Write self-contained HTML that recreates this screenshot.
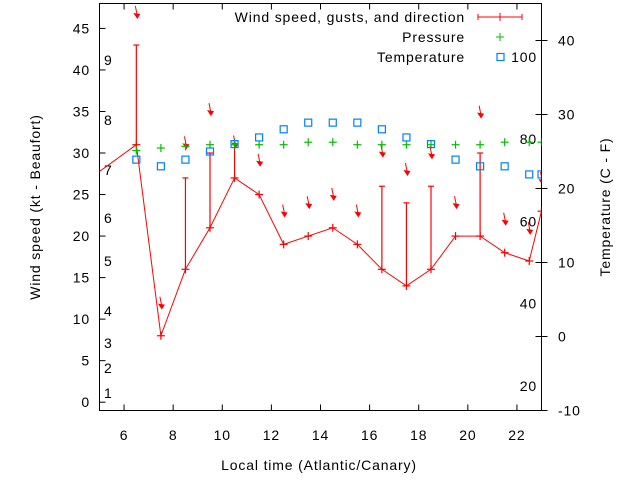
<!DOCTYPE html>
<html><head><meta charset="utf-8"><style>
body{margin:0;background:#fff;}
svg{display:block;font-family:"Liberation Sans",sans-serif;}
svg text{letter-spacing:0.85px;}
</style></head><body>
<svg id="chart" width="640" height="480" viewBox="0 0 640 480" xmlns="http://www.w3.org/2000/svg"></svg>
<script>
const hours=[6.5,7.5,8.5,9.5,10.5,11.5,12.5,13.5,14.5,15.5,16.5,17.5,18.5,19.5,20.5,21.5,22.5,23];
const windKt=[31,8,16,21,27,25,19,20,21,19,16,14,16,20,20,18,17,23];
const gustKt=[43,null,27,30,31.5,null,null,null,null,null,26,24,26,null,30,null,null,null];
const arrowKt=[46.5,11.5,30.8,34.8,30.9,28.7,22.6,23.6,24.6,22.6,29.8,27.6,29.6,23.6,34.5,21.6,20.5,26.5];
const pressure=[30.3,30.6,30.8,31,31,31,31,31.3,31.3,31,31,31,31,31,31,31.3,31.3,31.3];
const tempC=[23.9,23,23.9,25,26,26.9,28,28.9,28.9,28.9,28,26.9,26,23.9,23,23,21.9,21.9];
const xTicks=[6,8,10,12,14,16,18,20,22];
const yTicks=[0,5,10,15,20,25,30,35,40,45];
const y2Ticks=[-10,0,10,20,30,40];
const beaufort=[[1,393],[2,368],[3,343],[4,311],[5,261],[6,218],[7,170],[8,120],[9,60]];
const fahr=[20,40,60,80,100];

const L=99.5,R=541.5,T=3.5,B=410.5;
const X=h=>L+(h-5)*(R-L)/18;
const Y=v=>B-(v+1)*(B-T)/49;
const Y2=c=>B-(c+10)*(B-T)/55;
const svg=document.getElementById('chart');
const NS='http://www.w3.org/2000/svg';
function mk(tag,attrs,parent){const e=document.createElementNS(NS,tag);for(const k in attrs)e.setAttribute(k,attrs[k]);(parent||svg).appendChild(e);return e;}
function txt(s,x,y,anchor,parent){const t=mk('text',{x:x,y:y,'font-size':14,'text-anchor':anchor||'middle',fill:'#000'},parent);t.textContent=s;return t;}

const frame=mk('rect',{x:L,y:T,width:R-L,height:B-T,fill:'none',stroke:'#000','stroke-width':1});



const gx=mk('g',{});


xTicks.forEach(h=>{
  mk('line',{x1:X(h),x2:X(h),y1:B,y2:B-6,stroke:'#000'},gx);
  mk('line',{x1:X(h),x2:X(h),y1:T,y2:T+6,stroke:'#000'},gx);
  const t=txt(String(h),X(h),440,'middle',gx);
  
  
});
const gy=mk('g',{});


yTicks.forEach(v=>{
  mk('line',{x1:L,x2:L+6,y1:Y(v),y2:Y(v),stroke:'#000'},gy);
  const t=txt(String(v),90,Y(v)+5,'end',gy);
  
  
});
const gy2=mk('g',{});


y2Ticks.forEach(c=>{
  mk('line',{x1:R-6,x2:R+6,y1:Y2(c),y2:Y2(c),stroke:'#000'},gy2);
  const t=txt(String(c),558,Y2(c)+5,'start',gy2);
  
  
});
beaufort.forEach(b=>{
  const t=txt(String(b[0]),104,b[1]+5,'start');
  
  
});
fahr.forEach(f=>{
  const t=txt(String(f),537,Y2((f-32)*5/9)+5,'end');
  
  
});

const defs=mk('defs',{});
const cp=mk('clipPath',{id:'clip'},defs);
mk('rect',{x:L,y:T,width:R-L,height:B-T},cp);
const plot=mk('g',{'clip-path':'url(#clip)'});

let pts=[[4.5,26.7]].concat(hours.map((h,i)=>[h,windKt[i]]));
const wl=mk('polyline',{points:pts.map(p=>X(p[0])+','+Y(p[1])).join(' '),fill:'none',stroke:'#f00','stroke-width':1},plot);


hours.forEach((h,i)=>{
  const g=mk('g',{stroke:'#f00','stroke-width':1.2},plot);
  
  
  const x=X(h),y=Y(windKt[i]);
  mk('line',{x1:x-4,x2:x+4,y1:y,y2:y},g);mk('line',{x1:x,x2:x,y1:y-4,y2:y+4},g);
  if(gustKt[i]!==null){
    const gy_=Y(gustKt[i]);
    mk('line',{x1:x,x2:x,y1:y,y2:gy_},g);
    mk('line',{x1:x-3,x2:x+3,y1:gy_,y2:gy_},g);
  }
  const ay=Y(arrowKt[i]);
  const a=mk('g',{},plot);
  
  
  mk('line',{x1:x-1,y1:ay-10,x2:x+1,y2:ay,stroke:'#f00','stroke-width':1},a);
  mk('polygon',{points:(x-3)+','+(ay-3)+' '+(x+4)+','+(ay-2)+' '+(x+1)+','+(ay+3),fill:'#f00'},a);
});
hours.forEach((h,i)=>{
  const x=X(h),y=Y(pressure[i]);
  const g=mk('g',{stroke:'#00c000','stroke-width':1.2},plot);
  
  
  mk('line',{x1:x-4,x2:x+4,y1:y,y2:y},g);mk('line',{x1:x,x2:x,y1:y-4,y2:y+4},g);
});
hours.forEach((h,i)=>{
  const r=mk('rect',{x:X(h)-3.5,y:Y2(tempC[i])-3.5,width:7,height:7,fill:'none',stroke:'#0080ff','stroke-width':1.2},plot);
  
  
});

const lg=mk('g',{});


txt('Wind speed, gusts, and direction',465,22,'end',lg);
mk('line',{x1:478,x2:522,y1:17,y2:17,stroke:'#f00'},lg);
mk('line',{x1:478,x2:478,y1:14,y2:20,stroke:'#f00'},lg);
mk('line',{x1:522,x2:522,y1:14,y2:20,stroke:'#f00'},lg);
mk('line',{x1:500,x2:500,y1:13,y2:21,stroke:'#f00'},lg);
txt('Pressure',465,42,'end',lg);
mk('line',{x1:496,x2:504,y1:37,y2:37,stroke:'#00c000'},lg);
mk('line',{x1:500,x2:500,y1:33,y2:41,stroke:'#00c000'},lg);
txt('Temperature',465,62,'end',lg);
mk('rect',{x:497,y:53.5,width:7,height:7,fill:'none',stroke:'#0080ff','stroke-width':1.2},lg);

const xt=txt('Local time (Atlantic/Canary)',319,470);


const yt=txt('Wind speed (kt - Beaufort)',0,0);
yt.setAttribute('transform','translate(40,207) rotate(-90)');


const y2t=txt('Temperature (C - F)',0,0);
y2t.setAttribute('transform','translate(610,207) rotate(-90)');


</script>
</body></html>
